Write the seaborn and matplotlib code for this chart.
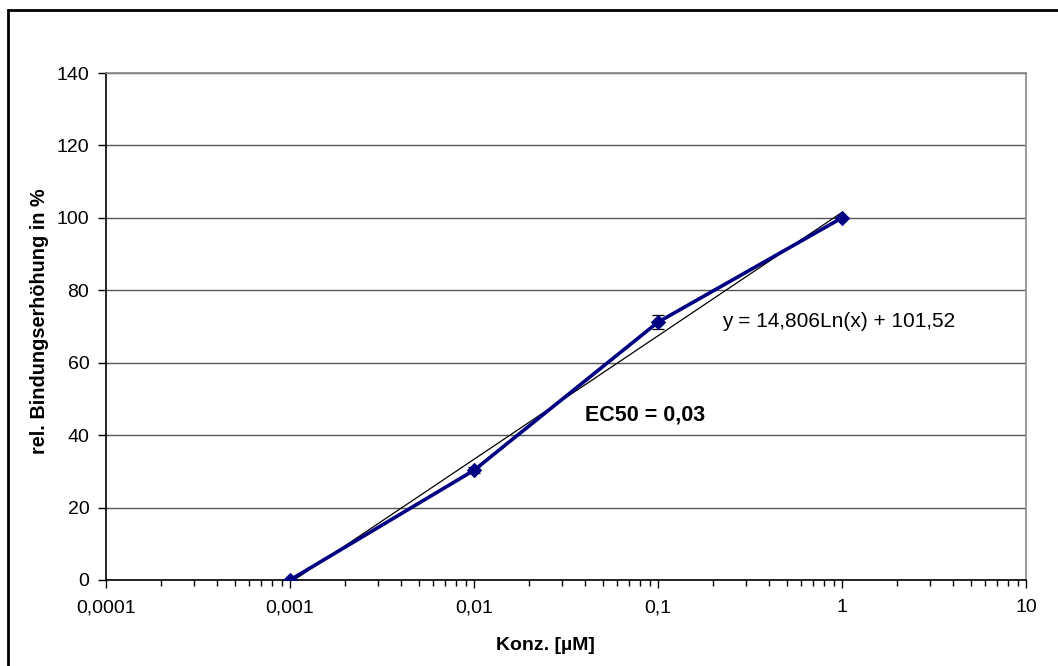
import numpy as np
import pandas as pd
import matplotlib
matplotlib.use("Agg")
import matplotlib.pyplot as plt
import seaborn as sns
from matplotlib.patches import Rectangle
from matplotlib.ticker import LogLocator, FixedLocator, FixedFormatter, NullFormatter

# ---- data ----
konz = [0.001, 0.01, 0.1, 1.0]
bindung = [0.0, 30.3, 71.2, 100.0]
fehler = [0.0, 0.8, 2.0, 0.0]
trend_slope = 14.806
trend_intercept = 101.52
x_ticks = [0.0001, 0.001, 0.01, 0.1, 1, 10]
x_ticklabels = ["0,0001", "0,001", "0,01", "0,1", "1", "10"]
y_ticks = [0, 20, 40, 60, 80, 100, 120, 140]
eq_text = "y = 14,806Ln(x) + 101,52"
ec50_text = "EC50 = 0,03"
xlabel = "Konz. [µM]"
ylabel = "rel. Bindungserhöhung in %"

sns.set_theme(style="white")
plt.rcParams['font.family'] = ['Liberation Sans', 'DejaVu Sans']
plt.rcParams['text.color'] = 'black'
plt.rcParams['axes.labelcolor'] = 'black'
plt.rcParams['xtick.color'] = 'black'
plt.rcParams['ytick.color'] = 'black'

W, H = 1058, 666
fig = plt.figure(figsize=(W / 100, H / 100), dpi=100)
ax = fig.add_axes([106 / W, 1 - 580 / H, (1026 - 106) / W, (580 - 73) / H])

df = pd.DataFrame({"Konz": konz, "Bindung": bindung})

# trend line (Excel log fit)
tx = np.geomspace(konz[0], konz[-1], 50)
ty = trend_slope * np.log(tx) + trend_intercept
ax.plot(tx, ty, color="black", lw=0.9, zorder=3)

# error bars
ax.errorbar(konz, bindung, yerr=fehler, fmt="none", ecolor="black",
            elinewidth=0.9, capsize=4, capthick=0.9, zorder=4)

sns.lineplot(data=df, x="Konz", y="Bindung", ax=ax, color="#000080",
             lw=2.6, marker="D", markersize=7, markeredgecolor="#000080",
             zorder=5)

ax.set_xscale("log")
ax.set_xlim(1e-4, 10)
ax.set_ylim(0, 140)

ax.xaxis.set_major_locator(FixedLocator(x_ticks))
ax.xaxis.set_major_formatter(FixedFormatter(x_ticklabels))
ax.xaxis.set_minor_locator(LogLocator(base=10, subs=np.arange(2, 10)))
ax.xaxis.set_minor_formatter(NullFormatter())
ax.set_yticks(y_ticks)

ax.tick_params(axis="x", which="major", direction="out", length=6, width=1,
               color="black", labelcolor="black", labelsize=14, pad=8, bottom=True)
ax.tick_params(axis="x", which="minor", direction="out", length=4, width=1,
               color="black", bottom=True)
ax.tick_params(axis="y", which="major", direction="out", length=6, width=1,
               color="black", labelcolor="black", labelsize=14, pad=6, left=True)

ax.grid(axis="y", color="#555555", lw=1)
ax.set_axisbelow(True)
for s in ["left", "bottom"]:
    ax.spines[s].set_color("black")
    ax.spines[s].set_linewidth(1.2)
for s in ["top", "right"]:
    ax.spines[s].set_color("#888888")
    ax.spines[s].set_linewidth(1.2)

ax.set_xlabel(xlabel, fontsize=14, fontweight="bold", color="black")
ax.set_ylabel(ylabel, fontsize=14.3, fontweight="bold", color="black")
ax.xaxis.set_label_coords((545 - 106) / 920, -(645 - 580) / 507)
ax.yaxis.set_label_coords(-(106 - 40) / 920, (580 - 321) / 507)
ax.xaxis.label.set_va("center")
ax.yaxis.label.set_va("center")

ax.text(0.223, 71.5, eq_text, fontsize=15, ha="left", va="center", color="black")
ax.text(0.040, 45.5, ec50_text, fontsize=15.5, fontweight="bold",
        ha="left", va="center", color="black")

# outer chart border (Excel chart area)
fig.patches.append(Rectangle((8 / W, -0.05), 1.1, 1 - 10 / H + 0.05,
                             transform=fig.transFigure, fill=False,
                             edgecolor="black", lw=2))

fig.savefig("out.png", dpi=100)
